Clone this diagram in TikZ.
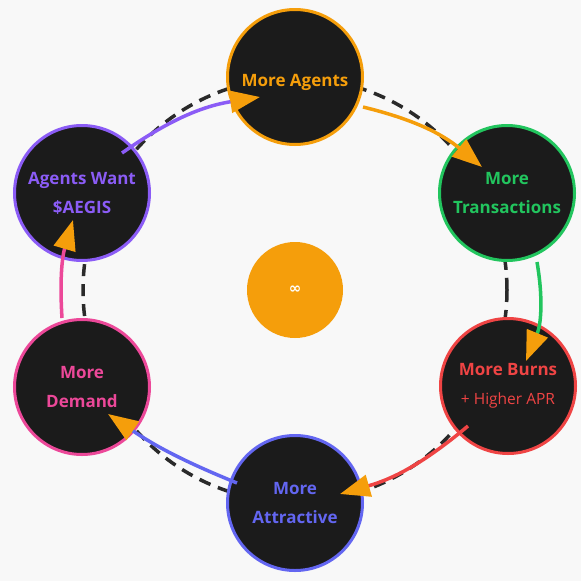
\documentclass[tikz,border=0pt]{standalone}
\usepackage{fontspec}
\setmainfont{Open Sans}
\newfontfamily\symfont{DejaVu Sans}
\usetikzlibrary{arrows.meta}
\definecolor{bg}{HTML}{F8F8F8}
\definecolor{nodefill}{HTML}{1B1B1B}
\definecolor{ringcol}{HTML}{2A2A2A}
\definecolor{corange}{HTML}{F59E0B}
\definecolor{cgreen}{HTML}{22C55E}
\definecolor{cred}{HTML}{EF4444}
\definecolor{cindigo}{HTML}{6366F1}
\definecolor{cpink}{HTML}{EC4899}
\definecolor{cviolet}{HTML}{8B5CF6}
\begin{document}
\begin{tikzpicture}[x=1pt,y=-1pt,
  stage/.style={circle, draw=#1, line width=3pt, fill=nodefill, minimum size=135pt,
    inner sep=0pt, text=#1, align=center, font=\fontsize{17}{29}\selectfont\bfseries},
  flow/.style={draw=#1, line width=3.5pt,
    -{Triangle[length=30pt,width=22pt,color=corange,fill=corange]}},
  ringline/.style={draw=ringcol, line width=3.5pt, dash pattern=on 12pt off 8pt}
]
\fill[bg] (0,0) rectangle (581,581);
\useasboundingbox (0,0) rectangle (581,581);

\draw[ringline] (295,290) circle[radius=212];

\node[stage=corange, text height=18pt, text depth=0pt] (agents) at (295,77) {More Agents};
\node[stage=cgreen] (trans) at (507,193) {More\\Transactions};
\node[stage=cred] (burns) at (508,386) {More Burns\\{\mdseries\fontsize{15.5}{30}\selectfont + Higher APR}};
\node[stage=cindigo] (attract) at (295,503) {More\\Attractive};
\node[stage=cpink] (demand) at (82,387) {More\\Demand};
\node[stage=cviolet] (want) at (82,193) {Agents Want\\\$AEGIS};

\node[circle, fill=corange, minimum size=96pt, inner sep=0pt, text=white,
  font=\symfont\bfseries\fontsize{15}{15}\selectfont] (loop) at (295,290) {∞};

\coordinate (a1) at (363,107); \coordinate (a2) at (482,167);
\coordinate (b1) at (537,262); \coordinate (b2) at (526,361);
\coordinate (c1) at (468,426); \coordinate (c2) at (340,494);
\coordinate (d1) at (237,483); \coordinate (d2) at (108,414);
\coordinate (e1) at (62,318);  \coordinate (e2) at (73,220);
\coordinate (f1) at (122,153); \coordinate (f2) at (260,97);

\draw[flow=corange] (a1) to[bend left=13] (a2);
\draw[flow=cgreen] (b1) to[bend left=16] (b2);
\draw[flow=cred] (c1) to[bend left=12] (c2);
\draw[flow=cindigo] (d1) to[bend left=6] (d2);
\draw[flow=cpink] (e1) to[bend left=10] (e2);
\draw[flow=cviolet] (f1) to[bend left=13] (f2);
\end{tikzpicture}
\end{document}
